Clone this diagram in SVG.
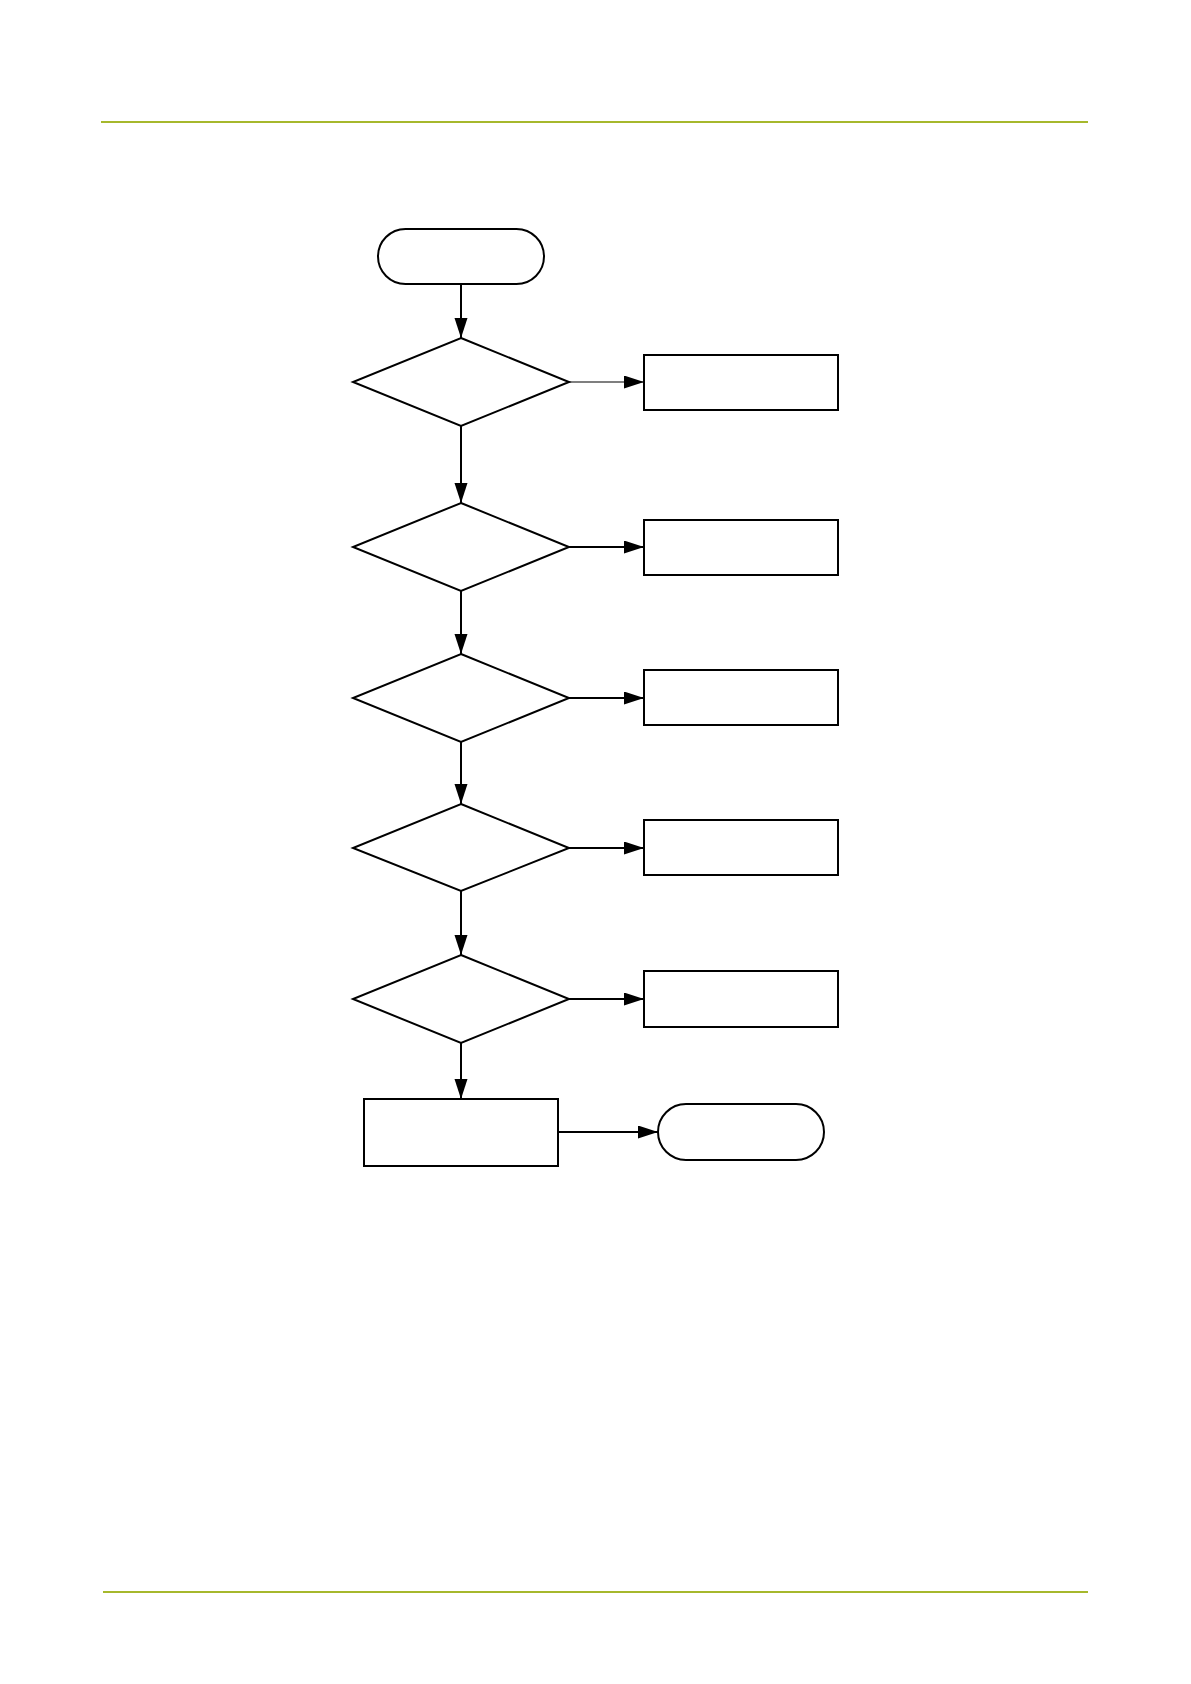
<svg xmlns="http://www.w3.org/2000/svg" width="1191" height="1684" viewBox="0 0 1191 1684">
<style>
.shape{fill:#fff;stroke:#000;stroke-width:2}
.conn{fill:none;stroke:#000;stroke-width:2}
.thin{stroke-width:1.2}
.rule{stroke:#a6b82c;stroke-width:2.2}
</style>
<defs>
<marker id="arr" markerUnits="userSpaceOnUse" markerWidth="21" markerHeight="14" refX="20" refY="6.5" orient="auto">
<path d="M0,0 L20,6.5 L0,13 Z" fill="#000"/>
</marker>
</defs>
<rect width="1191" height="1684" fill="#fff"/>
<line class="rule" x1="101" y1="122" x2="1088" y2="122"/>
<line class="rule" x1="103" y1="1592" x2="1088" y2="1592"/>
<g id="start"><rect class="shape" x="378" y="229" width="166" height="55" rx="27.5"/></g>
<g id="d1"><polygon class="shape" points="461,338 569,382 461,426 353,382"/></g>
<g id="d2"><polygon class="shape" points="461,503 569,547 461,591 353,547"/></g>
<g id="d3"><polygon class="shape" points="461,654 569,698 461,742 353,698"/></g>
<g id="d4"><polygon class="shape" points="461,804 569,848 461,891 353,848"/></g>
<g id="d5"><polygon class="shape" points="461,955 569,999 461,1043 353,999"/></g>
<g id="b1"><rect class="shape" x="644" y="355" width="194" height="55"/></g>
<g id="b2"><rect class="shape" x="644" y="520" width="194" height="55"/></g>
<g id="b3"><rect class="shape" x="644" y="670" width="194" height="55"/></g>
<g id="b4"><rect class="shape" x="644" y="820" width="194" height="55"/></g>
<g id="b5"><rect class="shape" x="644" y="971" width="194" height="56"/></g>
<g id="proc"><rect class="shape" x="364" y="1099" width="194" height="67"/></g>
<g id="end"><rect class="shape" x="658" y="1104" width="166" height="56" rx="28"/></g>
<g id="connectors">
<line class="conn" x1="461" y1="284" x2="461" y2="338" marker-end="url(#arr)"/>
<line class="conn" x1="461" y1="426" x2="461" y2="503" marker-end="url(#arr)"/>
<line class="conn" x1="461" y1="591" x2="461" y2="654" marker-end="url(#arr)"/>
<line class="conn" x1="461" y1="742" x2="461" y2="804" marker-end="url(#arr)"/>
<line class="conn" x1="461" y1="891" x2="461" y2="955" marker-end="url(#arr)"/>
<line class="conn" x1="461" y1="1043" x2="461" y2="1099" marker-end="url(#arr)"/>
<line class="conn thin" x1="569" y1="382" x2="644" y2="382" marker-end="url(#arr)"/>
<line class="conn" x1="569" y1="547" x2="644" y2="547" marker-end="url(#arr)"/>
<line class="conn" x1="569" y1="698" x2="644" y2="698" marker-end="url(#arr)"/>
<line class="conn" x1="569" y1="848" x2="644" y2="848" marker-end="url(#arr)"/>
<line class="conn" x1="569" y1="999" x2="644" y2="999" marker-end="url(#arr)"/>
<line class="conn" x1="558" y1="1132" x2="658" y2="1132" marker-end="url(#arr)"/>
</g>
</svg>
